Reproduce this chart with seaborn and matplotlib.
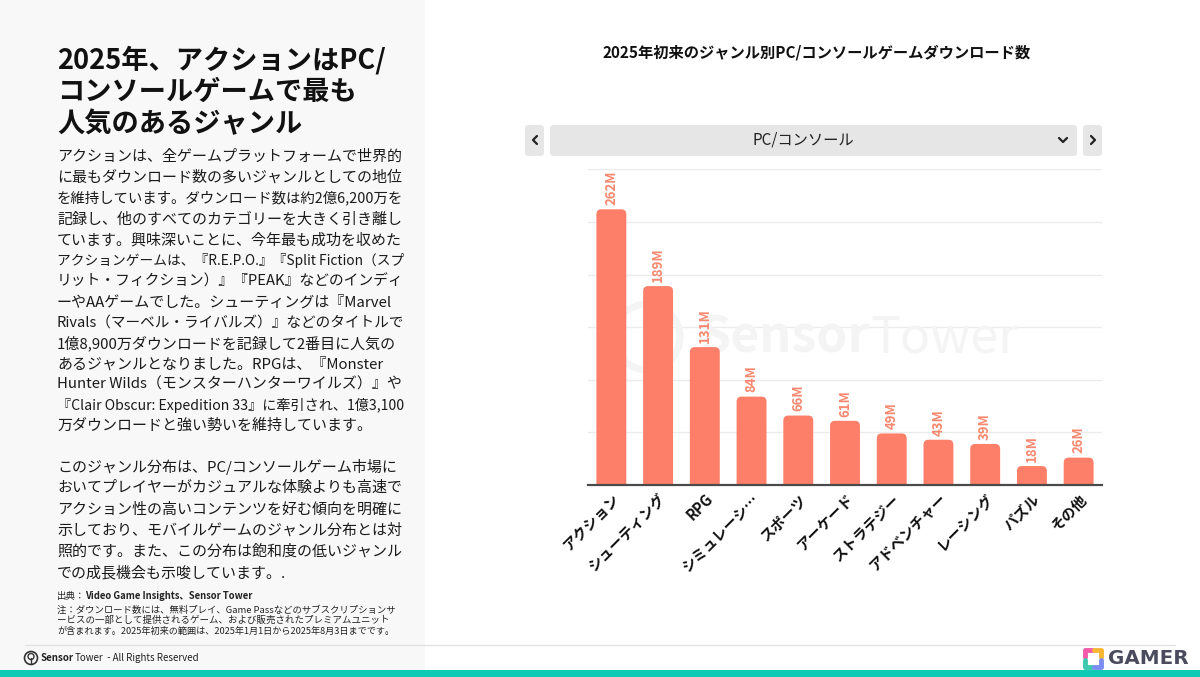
import matplotlib
matplotlib.use("Agg")
import matplotlib.pyplot as plt
import seaborn as sns
import pandas as pd
from matplotlib.patches import FancyBboxPatch, Rectangle, Ellipse
from matplotlib.lines import Line2D

# ---------------- data ----------------
genres = ["アクション", "シューティング", "RPG", "シミュレーシ…", "スポーツ", "アーケード",
          "ストラテジー", "アドベンチャー", "レーシング", "パズル", "その他"]
downloads_m = [262, 189, 131, 84, 66, 61, 49, 43, 39, 18, 26]
value_labels = [f"{v}M" for v in downloads_m]

chart_title = "2025年初来のジャンル別PC/コンソールゲームダウンロード数"
dropdown_label = "PC/コンソール"
headline = ["2025年、アクションはPC/", "コンソールゲームで最も", "人気のあるジャンル"]
para1 = [
    "アクションは、全ゲームプラットフォームで世界的",
    "に最もダウンロード数の多いジャンルとしての地位",
    "を維持しています。ダウンロード数は約2億6,200万を",
    "記録し、他のすべてのカテゴリーを大きく引き離し",
    "ています。興味深いことに、今年最も成功を収めた",
    "アクションゲームは、『R.E.P.O.』『Split Fiction（スプ",
    "リット・フィクション）』『PEAK』などのインディ",
    "ーやAAゲームでした。シューティングは『Marvel",
    "Rivals（マーベル・ライバルズ）』などのタイトルで",
    "1億8,900万ダウンロードを記録して2番目に人気の",
    "あるジャンルとなりました。RPGは、『Monster",
    "Hunter Wilds（モンスターハンターワイルズ）』や",
    "『Clair Obscur: Expedition 33』に牽引され、1億3,100",
    "万ダウンロードと強い勢いを維持しています。",
]
para2 = [
    "このジャンル分布は、PC/コンソールゲーム市場に",
    "おいてプレイヤーがカジュアルな体験よりも高速で",
    "アクション性の高いコンテンツを好む傾向を明確に",
    "示しており、モバイルゲームのジャンル分布とは対",
    "照的です。また、この分布は飽和度の低いジャンル",
    "での成長機会も示唆しています。.",
]
source_label = "出典："
source_names = "Video Game Insights、Sensor Tower"
notes = [
    "注：ダウンロード数には、無料プレイ、Game Passなどのサブスクリプションサ",
    "ービスの一部として提供されるゲーム、および販売されたプレミアムユニット",
    "が含まれます。2025年初来の範囲は、2025年1月1日から2025年8月3日までです。",
]
footer_parts = ["Sensor", "Tower", " - All Rights Reserved"]

# ---------------- style ----------------
sns.set_style("white")
plt.rcParams["font.family"] = ["Noto Sans CJK JP", "DejaVu Sans"]

W, H = 1200, 677
fig = plt.figure(figsize=(12, 6.77), dpi=100)
fig.patch.set_facecolor("white")

def fx(px):
    return px / W

def fy(py):
    return 1 - py / H

BAR = "#fd7f69"
LAB = "#f7886f"

# left panel background
fig.add_artist(Rectangle((0, fy(670)), fx(425), 1 - fy(670), transform=fig.transFigure,
                         fc="#f8f8f8", ec="none", zorder=0))
# bottom teal bar
fig.add_artist(Rectangle((0, 0), 1, fy(670), transform=fig.transFigure,
                         fc="#0fcab5", ec="none", zorder=1))
# footer separator
fig.add_artist(Line2D([fx(25), fx(1175)], [fy(645), fy(645)], transform=fig.transFigure,
                      color="#e2e2e2", lw=1))

# ---------------- chart ----------------
ax = fig.add_axes([fx(588), fy(485), fx(1102) - fx(588), fy(169.3) - fy(485)])
ax.set_facecolor("none")
ax.set_zorder(2)
df = pd.DataFrame({"genre": genres, "downloads": downloads_m})
sns.barplot(data=df, x="genre", y="downloads", color=BAR, width=0.64, ax=ax,
            saturation=1, zorder=3)

ax.set_ylim(0, 300)
ax.set_xlim(-0.5, len(genres) - 0.5)

# rounded bar tops
ax_w_px = 1102 - 588
ax_h_px = 485 - 169.3
x_per_px = len(genres) / ax_w_px
y_per_px = 300 / ax_h_px
for p in list(ax.patches):
    x0, w, h = p.get_x(), p.get_width(), p.get_height()
    p.remove()
    fb = FancyBboxPatch((x0, -8), w, h + 8,
                        boxstyle=f"round,pad=0,rounding_size={5 * x_per_px}",
                        mutation_aspect=y_per_px / x_per_px,
                        fc=BAR, ec="none", zorder=3)
    ax.add_patch(fb)

for i, (v, lab) in enumerate(zip(downloads_m, value_labels)):
    ax.text(i, v + 4, lab, rotation=90, ha="center", va="bottom", color=LAB,
            fontsize=9.5, fontweight="bold", zorder=4)

ax.set_yticks(range(0, 301, 50))
ax.yaxis.grid(True, color="#ebebeb", lw=1, zorder=0)
ax.set_axisbelow(True)
ax.tick_params(axis="y", length=0, labelleft=False)
ax.tick_params(axis="x", length=0, pad=4)
ax.set_xticks(range(len(genres)))
ax.set_xticklabels(genres, rotation=45, ha="right", rotation_mode="anchor",
                   fontsize=10.5, fontweight="bold", color="#111111")
ax.set_xlabel("")
ax.set_ylabel("")
for s in ["top", "left", "right"]:
    ax.spines[s].set_visible(False)
ax.spines["bottom"].set_color("#4a4a4a")
ax.spines["bottom"].set_linewidth(1.6)
ax.spines["bottom"].set_zorder(5)

# watermark (behind bars, very faint)
WM = "#f4f4f4"
ax.text(fx(700), fy(338), "Sensor", transform=fig.transFigure, fontsize=36,
        color=WM, ha="left", va="center", fontweight="bold", zorder=1)
ax.text(fx(870), fy(338), "Tower", transform=fig.transFigure, fontsize=36,
        color=WM, ha="left", va="center", zorder=1)
ax.add_artist(Ellipse((fx(647), fy(337)), 66 / W, 66 / H, transform=fig.transFigure,
                      fc="none", ec=WM, lw=5, zorder=1, clip_on=False))

# chart title
fig.text(fx(817), fy(53), chart_title, ha="center", va="center", fontsize=11,
         fontweight="bold", color="#111111")

# dropdown
asp = W / H
def rbox(x0, y0, x1, y1, color):
    fig.add_artist(FancyBboxPatch((fx(x0), fy(y1)), fx(x1) - fx(x0), fy(y0) - fy(y1),
                                  boxstyle="round,pad=0,rounding_size=0.003",
                                  mutation_aspect=asp, transform=fig.transFigure,
                                  fc=color, ec="none", zorder=1))
rbox(525, 125, 544, 156, "#e6e6e6")
rbox(550, 125, 1077, 156, "#e6e6e6")
rbox(1083, 125, 1102, 156, "#e6e6e6")
fig.text(fx(803), fy(140), dropdown_label, ha="center", va="center", fontsize=11,
         color="#222222")
for pts in ([(537, 136), (533, 140), (537, 144)],
            [(1091, 136), (1095, 140), (1091, 144)],
            [(1059, 138), (1063, 142), (1067, 138)]):
    fig.add_artist(Line2D([fx(p[0]) for p in pts], [fy(p[1]) for p in pts],
                          transform=fig.transFigure, color="#222222", lw=1.6,
                          solid_capstyle="round", solid_joinstyle="round", zorder=2))

# ---------------- left text ----------------
renderer = fig.canvas.get_renderer()

def fit_line(x, y, s, size, max_w, **kw):
    t = fig.text(fx(x), fy(y), s, ha="left", va="center", fontsize=size, **kw)
    w = t.get_window_extent(renderer).width
    if w > max_w:
        t.set_fontsize(size * max_w / w)
    return t

for i, line in enumerate(headline):
    fig.text(fx(57), fy(60 + i * 32), line, ha="left", va="center", fontsize=19.6,
             fontweight="bold", color="#111111")
for i, line in enumerate(para1):
    fit_line(57, 157 + i * 20.7, line, 10.8, 347, color="#1a1a1a")
for i, line in enumerate(para2):
    fit_line(57, 467 + i * 21.2, line, 10.8, 347, color="#1a1a1a")

t_src = fig.text(fx(57), fy(596), source_label, ha="left", va="center", fontsize=6.8,
                 color="#222222")
src_w = t_src.get_window_extent(renderer).width
fig.text(fx(57 + src_w), fy(596), source_names, ha="left", va="center", fontsize=6.8,
         color="#222222", style="italic", fontweight="bold")
note_y = [610, 620.5, 631]
for y, line in zip(note_y, notes):
    fit_line(57, y, line, 6.8, 340, color="#222222")

# footer
fig.add_artist(Ellipse((fx(31), fy(658)), 13 / W, 13 / H, transform=fig.transFigure,
                       fc="none", ec="#333333", lw=1.2, zorder=2))
fig.add_artist(Ellipse((fx(31), fy(656.5)), 6 / W, 6 / H, transform=fig.transFigure,
                       fc="none", ec="#333333", lw=1.0, zorder=2))
fig.add_artist(Line2D([fx(31), fx(31)], [fy(658), fy(663)], transform=fig.transFigure,
                      color="#333333", lw=1.0, zorder=2))
cur_x = 41
for part, wt in zip(footer_parts, ["bold", "normal", "normal"]):
    t = fig.text(fx(cur_x), fy(658), part, ha="left", va="center", fontsize=7,
                 fontweight=wt, color="#222222")
    cur_x += t.get_window_extent(renderer).width + 1

# GAMER logo
icon = [((1085, 650), (1092, 650), "#f05aa8"), ((1094, 650), (1101, 650), "#f7b733"),
        ((1085, 667), (1092, 667), "#3cc9b0"), ((1094, 667), (1101, 667), "#7b8cf5"),
        ((1085, 651), (1085, 657), "#f05aa8"), ((1101, 651), (1101, 657), "#f7b733"),
        ((1085, 660), (1085, 666), "#3cc9b0"), ((1101, 660), (1101, 666), "#7b8cf5")]
for a, b, c in icon:
    fig.add_artist(Line2D([fx(a[0]), fx(b[0])], [fy(a[1]), fy(b[1])],
                          transform=fig.transFigure, color=c, lw=3.5,
                          solid_capstyle="round", zorder=2))
fig.text(fx(1108), fy(658), "GAMER", ha="left", va="center", fontsize=14.3,
         fontweight="bold", color="#4b4b5e", family=["DejaVu Sans"])

fig.savefig("out.png", dpi=100)
